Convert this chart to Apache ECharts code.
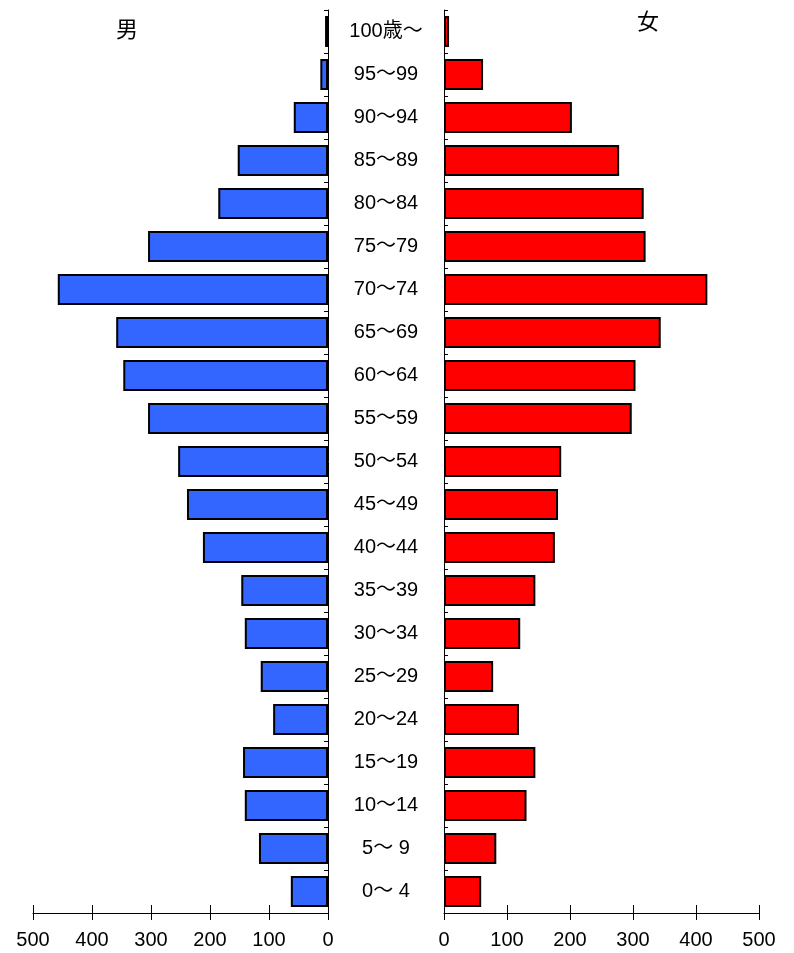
<!DOCTYPE html>
<html>
<head>
<meta charset="utf-8">
<script src="https://cdn.jsdelivr.net/npm/echarts@6/dist/echarts.min.js"></script>
<style>
html,body{margin:0;padding:0;background:#fff;}
#chart{width:794px;height:953px;}
</style>
</head>
<body>
<div id="chart"></div>
<script>
const categories = ['0～ 4','5～ 9','10～14','15～19','20～24','25～29','30～34','35～39','40～44','45～49','50～54','55～59','60～64','65～69','70～74','75～79','80～84','85～89','90～94','95～99','100歳～'];
const maleValues = [63,117,141,144,93,114,141,147,212,239,254,305,347,359,458,305,186,153,58,13,5];
const femaleValues = [59,83,131,145,119,78,121,145,176,181,186,298,304,344,418,320,317,278,203,62,8];
const xTicks = {min:0, max:500, interval:100};
const maleTitle = '男';
const femaleTitle = '女';

const font = '"Liberation Sans", Arial, "Noto Sans CJK JP", sans-serif';
const chart = echarts.init(document.getElementById('chart'));

function xAxisMain(gi, inverse){
  return {type:'value', gridIndex:gi, inverse:inverse, min:xTicks.min, max:xTicks.max, interval:xTicks.interval,
    axisLine:{show:true, lineStyle:{color:'#000', width:1}},
    axisTick:{show:true, inside:false, length:7, lineStyle:{color:'#000', width:1}},
    axisLabel:{show:true, color:'#000', fontSize:20, fontFamily:font, margin:17},
    splitLine:{show:false}};
}
function xAxisInner(gi, inverse){
  return {type:'value', gridIndex:gi, inverse:inverse, min:xTicks.min, max:xTicks.max, interval:xTicks.interval,
    position:'bottom',
    axisLine:{show:false},
    axisTick:{show:true, inside:true, length:8, lineStyle:{color:'#000', width:1}},
    axisLabel:{show:false}, splitLine:{show:false}};
}

chart.setOption({
  animation:false,
  backgroundColor:'#fff',
  graphic:[
    {type:'text', left:116, top:18, style:{text:maleTitle, fontSize:22, fontFamily:'"Noto Sans CJK JP", sans-serif', fill:'#000'}},
    {type:'text', left:637, top:10, style:{text:femaleTitle, fontSize:22, fontFamily:'"Noto Sans CJK JP", sans-serif', fill:'#000'}}
  ],
  grid:[
    {left:33, right:466, top:10, bottom:40},
    {left:444, right:35, top:10, bottom:40}
  ],
  xAxis:[xAxisMain(0,true), xAxisMain(1,false), xAxisInner(0,true), xAxisInner(1,false)],
  yAxis:[
    {type:'category', gridIndex:0, data:categories, position:'right',
      axisLine:{show:true, lineStyle:{color:'#000', width:1}},
      axisTick:{show:true, inside:true, length:4, lineStyle:{color:'#000'}},
      axisLabel:{show:true, align:'center', margin:58, color:'#000', fontSize:20, fontFamily:font}},
    {type:'category', gridIndex:1, data:categories, position:'left',
      axisLine:{show:true, lineStyle:{color:'#000', width:1}},
      axisTick:{show:true, inside:true, length:4, lineStyle:{color:'#000'}},
      axisLabel:{show:false}}
  ],
  series:[
    {type:'bar', xAxisIndex:0, yAxisIndex:0, data:maleValues, barWidth:31,
      itemStyle:{color:'#3366FF', borderColor:'#000', borderWidth:2}},
    {type:'bar', xAxisIndex:1, yAxisIndex:1, data:femaleValues, barWidth:31,
      itemStyle:{color:'#FF0000', borderColor:'#000', borderWidth:2}}
  ]
});
</script>
</body>
</html>
